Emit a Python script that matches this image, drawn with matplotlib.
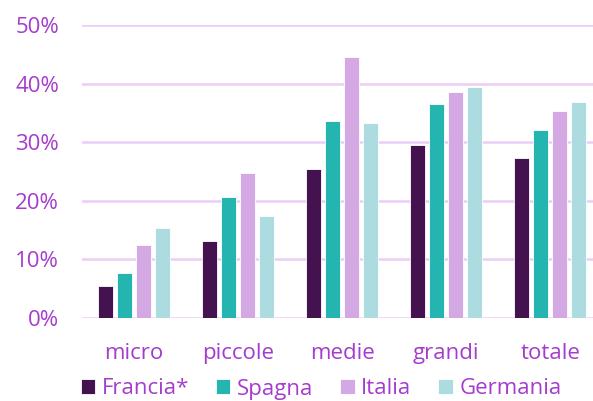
import numpy as np
import matplotlib.pyplot as plt

categories = ['micro', 'piccole', 'medie', 'grandi', 'totale']
francia = [5.4, 13.1, 25.5, 29.6, 27.3]
spagna = [7.6, 20.7, 33.7, 36.6, 32.1]
italia = [12.5, 24.8, 44.5, 38.6, 35.3]
germania = [15.3, 17.4, 33.3, 39.4, 36.9]

series = [('Francia*', francia, '#43124f'),
          ('Spagna', spagna, '#25b5b0'),
          ('Italia', italia, '#d4a9e3'),
          ('Germania', germania, '#acdbe0')]

textColor = '#a53ccd'
gridColor = '#eccdf6'

plt.rcParams['font.family'] = ['Open Sans', 'DejaVu Sans']

fig = plt.figure(figsize=(5.93, 4.01), dpi=100)
ax = fig.add_axes([82 / 593, 1 - 318 / 401, 1 - 82 / 593, (318 - 25) / 401])

x = np.arange(len(categories))
width = 0.144
step = 0.183
for i, (name, values, color) in enumerate(series):
    ax.bar(x + (i - 1.5) * step, values, width=width, color=color, label=name,
           edgecolor='white', linewidth=0.6, zorder=3)

ax.set_ylim(0, 50)
ax.set_xlim(-0.5, 4.41)
ax.set_yticks(range(0, 51, 10))
ax.set_yticklabels([f'{v}%' for v in range(0, 51, 10)])
ax.set_xticks(x)
ax.set_xticklabels(categories)
ax.tick_params(axis='both', length=0, labelsize=16, labelcolor=textColor)
ax.tick_params(axis='y', pad=16.5)
ax.tick_params(axis='x', pad=18)
ax.grid(axis='y', color=gridColor, linewidth=1.8, zorder=0)
ax.set_axisbelow(True)
for spine in ax.spines.values():
    spine.set_visible(False)

leg = fig.legend(loc='center left', bbox_to_anchor=(72 / 593, 1 - 389 / 401), ncol=4,
                 frameon=False, fontsize=16, handlelength=0.65, handleheight=0.65,
                 handletextpad=0.3, columnspacing=1.2, borderaxespad=0)
for t in leg.get_texts():
    t.set_color(textColor)

fig.savefig('out.png', dpi=100)
